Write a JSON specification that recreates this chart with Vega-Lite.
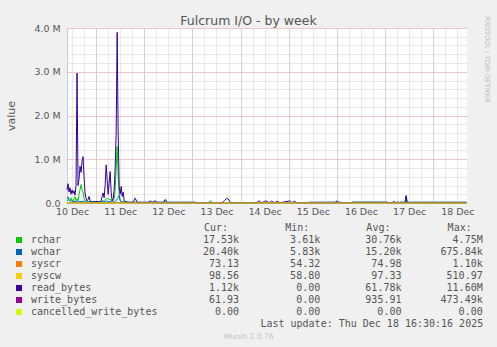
{
  "$schema": "https://vega.github.io/schema/vega-lite/v6.json",
  "width": 400,
  "height": 175,
  "autosize": "none",
  "padding": {"left": 67, "top": 28, "right": 30, "bottom": 144},
  "background": "#f0f0f0",
  "title": {"text": "Fulcrum I/O - by week", "font": "DejaVu Sans", "fontSize": 12.5, "fontWeight": "normal", "color": "#555555", "anchor": "middle", "dx": -18.5, "offset": -12},
  "config": {
    "font": "DejaVu Sans",
    "view": {"fill": "white", "stroke": null},
    "axis": {"labelFont": "DejaVu Sans", "labelColor": "#555555", "titleFont": "DejaVu Sans", "titleColor": "#555555", "titleFontWeight": "normal", "labelFlush": false, "labelOverlap": false, "labelBound": false}
  },
  "datasets": {
    "io": [
      {"t": "2025-12-10T09:30:00Z", "rchar": 50000, "wchar": 100000, "syscr": 75, "syscw": 97, "read_bytes": 300000, "write_bytes": 2000, "cancelled_write_bytes": 0},
      {"t": "2025-12-10T10:00:00Z", "rchar": 60000, "wchar": 140000, "syscr": 75, "syscw": 97, "read_bytes": 440000, "write_bytes": 3000, "cancelled_write_bytes": 0},
      {"t": "2025-12-10T10:30:00Z", "rchar": 80000, "wchar": 80000, "syscr": 75, "syscw": 97, "read_bytes": 250000, "write_bytes": 2000, "cancelled_write_bytes": 0},
      {"t": "2025-12-10T11:00:00Z", "rchar": 50000, "wchar": 50000, "syscr": 75, "syscw": 97, "read_bytes": 350000, "write_bytes": 2000, "cancelled_write_bytes": 0},
      {"t": "2025-12-10T11:30:00Z", "rchar": 120000, "wchar": 40000, "syscr": 75, "syscw": 97, "read_bytes": 200000, "write_bytes": 2000, "cancelled_write_bytes": 0},
      {"t": "2025-12-10T12:00:00Z", "rchar": 60000, "wchar": 50000, "syscr": 75, "syscw": 97, "read_bytes": 300000, "write_bytes": 2000, "cancelled_write_bytes": 0},
      {"t": "2025-12-10T12:30:00Z", "rchar": 40000, "wchar": 30000, "syscr": 75, "syscw": 97, "read_bytes": 220000, "write_bytes": 2000, "cancelled_write_bytes": 0},
      {"t": "2025-12-10T13:00:00Z", "rchar": 100000, "wchar": 40000, "syscr": 75, "syscw": 97, "read_bytes": 280000, "write_bytes": 2000, "cancelled_write_bytes": 0},
      {"t": "2025-12-10T13:30:00Z", "rchar": 150000, "wchar": 30000, "syscr": 75, "syscw": 97, "read_bytes": 180000, "write_bytes": 2000, "cancelled_write_bytes": 0},
      {"t": "2025-12-10T14:00:00Z", "rchar": 50000, "wchar": 30000, "syscr": 75, "syscw": 97, "read_bytes": 400000, "write_bytes": 2000, "cancelled_write_bytes": 0},
      {"t": "2025-12-10T14:30:00Z", "rchar": 100000, "wchar": 50000, "syscr": 75, "syscw": 97, "read_bytes": 2970000, "write_bytes": 5000, "cancelled_write_bytes": 0},
      {"t": "2025-12-10T15:00:00Z", "rchar": 60000, "wchar": 40000, "syscr": 75, "syscw": 97, "read_bytes": 400000, "write_bytes": 2000, "cancelled_write_bytes": 0},
      {"t": "2025-12-10T15:30:00Z", "rchar": 200000, "wchar": 30000, "syscr": 75, "syscw": 97, "read_bytes": 550000, "write_bytes": 2000, "cancelled_write_bytes": 0},
      {"t": "2025-12-10T16:00:00Z", "rchar": 300000, "wchar": 30000, "syscr": 75, "syscw": 97, "read_bytes": 840000, "write_bytes": 2000, "cancelled_write_bytes": 0},
      {"t": "2025-12-10T16:30:00Z", "rchar": 420000, "wchar": 40000, "syscr": 75, "syscw": 97, "read_bytes": 700000, "write_bytes": 2000, "cancelled_write_bytes": 0},
      {"t": "2025-12-10T17:00:00Z", "rchar": 300000, "wchar": 30000, "syscr": 75, "syscw": 97, "read_bytes": 950000, "write_bytes": 2000, "cancelled_write_bytes": 0},
      {"t": "2025-12-10T17:30:00Z", "rchar": 250000, "wchar": 50000, "syscr": 75, "syscw": 97, "read_bytes": 1060000, "write_bytes": 2000, "cancelled_write_bytes": 0},
      {"t": "2025-12-10T18:00:00Z", "rchar": 100000, "wchar": 30000, "syscr": 75, "syscw": 97, "read_bytes": 600000, "write_bytes": 2000, "cancelled_write_bytes": 0},
      {"t": "2025-12-10T18:30:00Z", "rchar": 50000, "wchar": 20000, "syscr": 75, "syscw": 97, "read_bytes": 230000, "write_bytes": 2000, "cancelled_write_bytes": 0},
      {"t": "2025-12-10T19:00:00Z", "rchar": 40000, "wchar": 20000, "syscr": 75, "syscw": 97, "read_bytes": 100000, "write_bytes": 1000, "cancelled_write_bytes": 0},
      {"t": "2025-12-10T19:30:00Z", "rchar": 30000, "wchar": 20000, "syscr": 75, "syscw": 97, "read_bytes": 50000, "write_bytes": 1000, "cancelled_write_bytes": 0},
      {"t": "2025-12-10T20:00:00Z", "rchar": 30000, "wchar": 20000, "syscr": 75, "syscw": 97, "read_bytes": 80000, "write_bytes": 1000, "cancelled_write_bytes": 0},
      {"t": "2025-12-10T20:30:00Z", "rchar": 30000, "wchar": 20000, "syscr": 75, "syscw": 97, "read_bytes": 150000, "write_bytes": 1000, "cancelled_write_bytes": 0},
      {"t": "2025-12-10T21:00:00Z", "rchar": 30000, "wchar": 20000, "syscr": 75, "syscw": 97, "read_bytes": 50000, "write_bytes": 1000, "cancelled_write_bytes": 0},
      {"t": "2025-12-10T21:30:00Z", "rchar": 25000, "wchar": 20000, "syscr": 75, "syscw": 97, "read_bytes": 20000, "write_bytes": 1000, "cancelled_write_bytes": 0},
      {"t": "2025-12-10T22:30:00Z", "rchar": 25000, "wchar": 20000, "syscr": 75, "syscw": 97, "read_bytes": 30000, "write_bytes": 1000, "cancelled_write_bytes": 0},
      {"t": "2025-12-10T23:30:00Z", "rchar": 25000, "wchar": 20000, "syscr": 75, "syscw": 97, "read_bytes": 20000, "write_bytes": 1000, "cancelled_write_bytes": 0},
      {"t": "2025-12-11T00:30:00Z", "rchar": 25000, "wchar": 20000, "syscr": 75, "syscw": 97, "read_bytes": 40000, "write_bytes": 1000, "cancelled_write_bytes": 0},
      {"t": "2025-12-11T01:30:00Z", "rchar": 25000, "wchar": 20000, "syscr": 75, "syscw": 97, "read_bytes": 20000, "write_bytes": 1000, "cancelled_write_bytes": 0},
      {"t": "2025-12-11T02:30:00Z", "rchar": 30000, "wchar": 20000, "syscr": 75, "syscw": 97, "read_bytes": 50000, "write_bytes": 1000, "cancelled_write_bytes": 0},
      {"t": "2025-12-11T03:00:00Z", "rchar": 40000, "wchar": 25000, "syscr": 75, "syscw": 97, "read_bytes": 150000, "write_bytes": 1000, "cancelled_write_bytes": 0},
      {"t": "2025-12-11T03:30:00Z", "rchar": 50000, "wchar": 30000, "syscr": 75, "syscw": 97, "read_bytes": 230000, "write_bytes": 1000, "cancelled_write_bytes": 0},
      {"t": "2025-12-11T04:00:00Z", "rchar": 60000, "wchar": 30000, "syscr": 75, "syscw": 97, "read_bytes": 120000, "write_bytes": 1000, "cancelled_write_bytes": 0},
      {"t": "2025-12-11T04:30:00Z", "rchar": 80000, "wchar": 40000, "syscr": 75, "syscw": 97, "read_bytes": 400000, "write_bytes": 1000, "cancelled_write_bytes": 0},
      {"t": "2025-12-11T05:00:00Z", "rchar": 100000, "wchar": 50000, "syscr": 75, "syscw": 97, "read_bytes": 870000, "write_bytes": 2000, "cancelled_write_bytes": 0},
      {"t": "2025-12-11T05:30:00Z", "rchar": 90000, "wchar": 40000, "syscr": 75, "syscw": 97, "read_bytes": 550000, "write_bytes": 2000, "cancelled_write_bytes": 0},
      {"t": "2025-12-11T06:00:00Z", "rchar": 100000, "wchar": 30000, "syscr": 75, "syscw": 97, "read_bytes": 200000, "write_bytes": 2000, "cancelled_write_bytes": 0},
      {"t": "2025-12-11T06:30:00Z", "rchar": 80000, "wchar": 30000, "syscr": 75, "syscw": 97, "read_bytes": 450000, "write_bytes": 2000, "cancelled_write_bytes": 0},
      {"t": "2025-12-11T07:00:00Z", "rchar": 90000, "wchar": 40000, "syscr": 75, "syscw": 97, "read_bytes": 720000, "write_bytes": 2000, "cancelled_write_bytes": 0},
      {"t": "2025-12-11T07:30:00Z", "rchar": 60000, "wchar": 30000, "syscr": 75, "syscw": 97, "read_bytes": 250000, "write_bytes": 2000, "cancelled_write_bytes": 0},
      {"t": "2025-12-11T08:00:00Z", "rchar": 40000, "wchar": 20000, "syscr": 75, "syscw": 97, "read_bytes": 50000, "write_bytes": 1000, "cancelled_write_bytes": 0},
      {"t": "2025-12-11T08:30:00Z", "rchar": 50000, "wchar": 20000, "syscr": 75, "syscw": 97, "read_bytes": 100000, "write_bytes": 1000, "cancelled_write_bytes": 0},
      {"t": "2025-12-11T09:00:00Z", "rchar": 100000, "wchar": 30000, "syscr": 75, "syscw": 97, "read_bytes": 300000, "write_bytes": 2000, "cancelled_write_bytes": 0},
      {"t": "2025-12-11T09:30:00Z", "rchar": 300000, "wchar": 40000, "syscr": 75, "syscw": 97, "read_bytes": 800000, "write_bytes": 5000, "cancelled_write_bytes": 0},
      {"t": "2025-12-11T10:00:00Z", "rchar": 800000, "wchar": 60000, "syscr": 75, "syscw": 97, "read_bytes": 1600000, "write_bytes": 10000, "cancelled_write_bytes": 0},
      {"t": "2025-12-11T10:30:00Z", "rchar": 1290000, "wchar": 80000, "syscr": 75, "syscw": 97, "read_bytes": 3900000, "write_bytes": 20000, "cancelled_write_bytes": 0},
      {"t": "2025-12-11T11:00:00Z", "rchar": 600000, "wchar": 120000, "syscr": 75, "syscw": 97, "read_bytes": 1600000, "write_bytes": 10000, "cancelled_write_bytes": 0},
      {"t": "2025-12-11T11:30:00Z", "rchar": 200000, "wchar": 170000, "syscr": 75, "syscw": 97, "read_bytes": 380000, "write_bytes": 5000, "cancelled_write_bytes": 0},
      {"t": "2025-12-11T12:00:00Z", "rchar": 50000, "wchar": 60000, "syscr": 75, "syscw": 97, "read_bytes": 200000, "write_bytes": 2000, "cancelled_write_bytes": 0},
      {"t": "2025-12-11T12:30:00Z", "rchar": 40000, "wchar": 30000, "syscr": 75, "syscw": 97, "read_bytes": 380000, "write_bytes": 2000, "cancelled_write_bytes": 0},
      {"t": "2025-12-11T13:00:00Z", "rchar": 30000, "wchar": 20000, "syscr": 75, "syscw": 97, "read_bytes": 150000, "write_bytes": 1000, "cancelled_write_bytes": 0},
      {"t": "2025-12-11T13:30:00Z", "rchar": 30000, "wchar": 20000, "syscr": 75, "syscw": 97, "read_bytes": 250000, "write_bytes": 1000, "cancelled_write_bytes": 0},
      {"t": "2025-12-11T14:00:00Z", "rchar": 25000, "wchar": 20000, "syscr": 75, "syscw": 97, "read_bytes": 50000, "write_bytes": 1000, "cancelled_write_bytes": 0},
      {"t": "2025-12-11T15:00:00Z", "rchar": 25000, "wchar": 20000, "syscr": 75, "syscw": 97, "read_bytes": 20000, "write_bytes": 1000, "cancelled_write_bytes": 0},
      {"t": "2025-12-11T17:00:00Z", "rchar": 10000, "wchar": 20000, "syscr": 75, "syscw": 97, "read_bytes": 10000, "write_bytes": 500, "cancelled_write_bytes": 0},
      {"t": "2025-12-11T18:30:00Z", "rchar": 10000, "wchar": 20000, "syscr": 75, "syscw": 97, "read_bytes": 20000, "write_bytes": 500, "cancelled_write_bytes": 0},
      {"t": "2025-12-11T19:30:00Z", "rchar": 10000, "wchar": 20000, "syscr": 75, "syscw": 97, "read_bytes": 110000, "write_bytes": 500, "cancelled_write_bytes": 0},
      {"t": "2025-12-11T20:30:00Z", "rchar": 10000, "wchar": 20000, "syscr": 75, "syscw": 97, "read_bytes": 10000, "write_bytes": 500, "cancelled_write_bytes": 0},
      {"t": "2025-12-12T02:00:00Z", "rchar": 10000, "wchar": 20000, "syscr": 75, "syscw": 97, "read_bytes": 10000, "write_bytes": 500, "cancelled_write_bytes": 0},
      {"t": "2025-12-12T03:00:00Z", "rchar": 10000, "wchar": 20000, "syscr": 75, "syscw": 97, "read_bytes": 50000, "write_bytes": 500, "cancelled_write_bytes": 0},
      {"t": "2025-12-12T04:00:00Z", "rchar": 10000, "wchar": 20000, "syscr": 75, "syscw": 97, "read_bytes": 10000, "write_bytes": 500, "cancelled_write_bytes": 0},
      {"t": "2025-12-12T05:30:00Z", "rchar": 10000, "wchar": 20000, "syscr": 75, "syscw": 97, "read_bytes": 50000, "write_bytes": 500, "cancelled_write_bytes": 0},
      {"t": "2025-12-12T06:30:00Z", "rchar": 10000, "wchar": 20000, "syscr": 75, "syscw": 97, "read_bytes": 10000, "write_bytes": 500, "cancelled_write_bytes": 0},
      {"t": "2025-12-12T09:30:00Z", "rchar": 10000, "wchar": 20000, "syscr": 75, "syscw": 97, "read_bytes": 10000, "write_bytes": 500, "cancelled_write_bytes": 0},
      {"t": "2025-12-12T10:30:00Z", "rchar": 10000, "wchar": 50000, "syscr": 75, "syscw": 97, "read_bytes": 80000, "write_bytes": 500, "cancelled_write_bytes": 0},
      {"t": "2025-12-12T11:30:00Z", "rchar": 10000, "wchar": 20000, "syscr": 75, "syscw": 97, "read_bytes": 10000, "write_bytes": 500, "cancelled_write_bytes": 0},
      {"t": "2025-12-12T18:00:00Z", "rchar": 10000, "wchar": 20000, "syscr": 75, "syscw": 97, "read_bytes": 10000, "write_bytes": 500, "cancelled_write_bytes": 0},
      {"t": "2025-12-13T01:30:00Z", "rchar": 10000, "wchar": 20000, "syscr": 75, "syscw": 97, "read_bytes": 10000, "write_bytes": 500, "cancelled_write_bytes": 0},
      {"t": "2025-12-13T02:30:00Z", "rchar": 8000, "wchar": 5000, "syscr": 75, "syscw": 97, "read_bytes": 3000, "write_bytes": 500, "cancelled_write_bytes": 0},
      {"t": "2025-12-13T08:00:00Z", "rchar": 8000, "wchar": 5000, "syscr": 75, "syscw": 97, "read_bytes": 3000, "write_bytes": 500, "cancelled_write_bytes": 0},
      {"t": "2025-12-13T09:00:00Z", "rchar": 50000, "wchar": 5000, "syscr": 75, "syscw": 97, "read_bytes": 3000, "write_bytes": 500, "cancelled_write_bytes": 0},
      {"t": "2025-12-13T10:00:00Z", "rchar": 8000, "wchar": 5000, "syscr": 75, "syscw": 97, "read_bytes": 3000, "write_bytes": 500, "cancelled_write_bytes": 0},
      {"t": "2025-12-13T15:00:00Z", "rchar": 8000, "wchar": 5000, "syscr": 75, "syscw": 97, "read_bytes": 3000, "write_bytes": 500, "cancelled_write_bytes": 0},
      {"t": "2025-12-13T16:00:00Z", "rchar": 8000, "wchar": 5000, "syscr": 75, "syscw": 97, "read_bytes": 60000, "write_bytes": 500, "cancelled_write_bytes": 0},
      {"t": "2025-12-13T17:00:00Z", "rchar": 8000, "wchar": 5000, "syscr": 75, "syscw": 97, "read_bytes": 100000, "write_bytes": 500, "cancelled_write_bytes": 0},
      {"t": "2025-12-13T18:00:00Z", "rchar": 8000, "wchar": 5000, "syscr": 75, "syscw": 97, "read_bytes": 90000, "write_bytes": 500, "cancelled_write_bytes": 0},
      {"t": "2025-12-13T19:00:00Z", "rchar": 8000, "wchar": 5000, "syscr": 75, "syscw": 97, "read_bytes": 3000, "write_bytes": 500, "cancelled_write_bytes": 0},
      {"t": "2025-12-14T08:00:00Z", "rchar": 8000, "wchar": 5000, "syscr": 75, "syscw": 97, "read_bytes": 3000, "write_bytes": 500, "cancelled_write_bytes": 0},
      {"t": "2025-12-14T09:00:00Z", "rchar": 8000, "wchar": 5000, "syscr": 75, "syscw": 97, "read_bytes": 50000, "write_bytes": 500, "cancelled_write_bytes": 0},
      {"t": "2025-12-14T10:30:00Z", "rchar": 8000, "wchar": 5000, "syscr": 75, "syscw": 97, "read_bytes": 3000, "write_bytes": 500, "cancelled_write_bytes": 0},
      {"t": "2025-12-14T12:30:00Z", "rchar": 8000, "wchar": 5000, "syscr": 75, "syscw": 97, "read_bytes": 50000, "write_bytes": 500, "cancelled_write_bytes": 0},
      {"t": "2025-12-14T14:30:00Z", "rchar": 8000, "wchar": 5000, "syscr": 75, "syscw": 97, "read_bytes": 3000, "write_bytes": 500, "cancelled_write_bytes": 0},
      {"t": "2025-12-14T15:30:00Z", "rchar": 8000, "wchar": 5000, "syscr": 75, "syscw": 97, "read_bytes": 50000, "write_bytes": 500, "cancelled_write_bytes": 0},
      {"t": "2025-12-14T16:30:00Z", "rchar": 8000, "wchar": 5000, "syscr": 75, "syscw": 97, "read_bytes": 3000, "write_bytes": 500, "cancelled_write_bytes": 0},
      {"t": "2025-12-14T18:30:00Z", "rchar": 8000, "wchar": 5000, "syscr": 75, "syscw": 97, "read_bytes": 40000, "write_bytes": 500, "cancelled_write_bytes": 0},
      {"t": "2025-12-14T19:30:00Z", "rchar": 8000, "wchar": 5000, "syscr": 75, "syscw": 97, "read_bytes": 3000, "write_bytes": 500, "cancelled_write_bytes": 0},
      {"t": "2025-12-15T00:30:00Z", "rchar": 8000, "wchar": 5000, "syscr": 75, "syscw": 97, "read_bytes": 50000, "write_bytes": 500, "cancelled_write_bytes": 0},
      {"t": "2025-12-15T01:30:00Z", "rchar": 8000, "wchar": 5000, "syscr": 75, "syscw": 97, "read_bytes": 3000, "write_bytes": 500, "cancelled_write_bytes": 0},
      {"t": "2025-12-15T03:00:00Z", "rchar": 8000, "wchar": 5000, "syscr": 75, "syscw": 97, "read_bytes": 40000, "write_bytes": 500, "cancelled_write_bytes": 0},
      {"t": "2025-12-15T04:00:00Z", "rchar": 8000, "wchar": 5000, "syscr": 75, "syscw": 97, "read_bytes": 3000, "write_bytes": 500, "cancelled_write_bytes": 0},
      {"t": "2025-12-15T10:00:00Z", "rchar": 8000, "wchar": 5000, "syscr": 75, "syscw": 97, "read_bytes": 3000, "write_bytes": 500, "cancelled_write_bytes": 0},
      {"t": "2025-12-15T10:30:00Z", "rchar": 10000, "wchar": 20000, "syscr": 75, "syscw": 97, "read_bytes": 3000, "write_bytes": 500, "cancelled_write_bytes": 0},
      {"t": "2025-12-15T23:00:00Z", "rchar": 10000, "wchar": 20000, "syscr": 75, "syscw": 97, "read_bytes": 3000, "write_bytes": 500, "cancelled_write_bytes": 0},
      {"t": "2025-12-16T00:00:00Z", "rchar": 10000, "wchar": 30000, "syscr": 75, "syscw": 97, "read_bytes": 50000, "write_bytes": 500, "cancelled_write_bytes": 0},
      {"t": "2025-12-16T00:30:00Z", "rchar": 10000, "wchar": 20000, "syscr": 75, "syscw": 97, "read_bytes": 3000, "write_bytes": 500, "cancelled_write_bytes": 0},
      {"t": "2025-12-16T01:30:00Z", "rchar": 10000, "wchar": 20000, "syscr": 75, "syscw": 97, "read_bytes": 3000, "write_bytes": 500, "cancelled_write_bytes": 0},
      {"t": "2025-12-16T02:30:00Z", "rchar": 8000, "wchar": 5000, "syscr": 75, "syscw": 97, "read_bytes": 3000, "write_bytes": 500, "cancelled_write_bytes": 0},
      {"t": "2025-12-16T07:00:00Z", "rchar": 8000, "wchar": 5000, "syscr": 75, "syscw": 97, "read_bytes": 3000, "write_bytes": 500, "cancelled_write_bytes": 0},
      {"t": "2025-12-16T08:00:00Z", "rchar": 10000, "wchar": 20000, "syscr": 75, "syscw": 97, "read_bytes": 15000, "write_bytes": 500, "cancelled_write_bytes": 0},
      {"t": "2025-12-17T01:00:00Z", "rchar": 10000, "wchar": 20000, "syscr": 75, "syscw": 97, "read_bytes": 15000, "write_bytes": 500, "cancelled_write_bytes": 0},
      {"t": "2025-12-17T02:00:00Z", "rchar": 8000, "wchar": 5000, "syscr": 75, "syscw": 97, "read_bytes": 3000, "write_bytes": 500, "cancelled_write_bytes": 0},
      {"t": "2025-12-17T05:00:00Z", "rchar": 8000, "wchar": 5000, "syscr": 75, "syscw": 97, "read_bytes": 30000, "write_bytes": 500, "cancelled_write_bytes": 0},
      {"t": "2025-12-17T05:30:00Z", "rchar": 8000, "wchar": 5000, "syscr": 75, "syscw": 97, "read_bytes": 3000, "write_bytes": 500, "cancelled_write_bytes": 0},
      {"t": "2025-12-17T06:30:00Z", "rchar": 8000, "wchar": 5000, "syscr": 75, "syscw": 97, "read_bytes": 30000, "write_bytes": 500, "cancelled_write_bytes": 0},
      {"t": "2025-12-17T07:00:00Z", "rchar": 8000, "wchar": 5000, "syscr": 75, "syscw": 97, "read_bytes": 3000, "write_bytes": 500, "cancelled_write_bytes": 0},
      {"t": "2025-12-17T07:30:00Z", "rchar": 10000, "wchar": 20000, "syscr": 75, "syscw": 97, "read_bytes": 10000, "write_bytes": 500, "cancelled_write_bytes": 0},
      {"t": "2025-12-17T10:00:00Z", "rchar": 10000, "wchar": 20000, "syscr": 75, "syscw": 97, "read_bytes": 10000, "write_bytes": 500, "cancelled_write_bytes": 0},
      {"t": "2025-12-17T10:30:00Z", "rchar": 10000, "wchar": 150000, "syscr": 75, "syscw": 97, "read_bytes": 170000, "write_bytes": 500, "cancelled_write_bytes": 0},
      {"t": "2025-12-17T11:00:00Z", "rchar": 10000, "wchar": 20000, "syscr": 75, "syscw": 97, "read_bytes": 10000, "write_bytes": 500, "cancelled_write_bytes": 0},
      {"t": "2025-12-18T16:30:00Z", "rchar": 10000, "wchar": 20000, "syscr": 73, "syscw": 99, "read_bytes": 10000, "write_bytes": 500, "cancelled_write_bytes": 0}
    ],
    "stats": [
      {"series": "rchar", "Cur": "17.53k", "Min": "3.61k", "Avg": "30.76k", "Max": "4.75M"},
      {"series": "wchar", "Cur": "20.40k", "Min": "5.83k", "Avg": "15.20k", "Max": "675.84k"},
      {"series": "syscr", "Cur": "73.13\u00a0", "Min": "54.32\u00a0", "Avg": "74.98\u00a0", "Max": "1.10k"},
      {"series": "syscw", "Cur": "98.56\u00a0", "Min": "58.80\u00a0", "Avg": "97.33\u00a0", "Max": "510.97\u00a0"},
      {"series": "read_bytes", "Cur": "1.12k", "Min": "0.00\u00a0", "Avg": "61.78k", "Max": "11.60M"},
      {"series": "write_bytes", "Cur": "61.93\u00a0", "Min": "0.00\u00a0", "Avg": "935.91\u00a0", "Max": "473.49k"},
      {"series": "cancelled_write_bytes", "Cur": "0.00\u00a0", "Min": "0.00\u00a0", "Avg": "0.00\u00a0", "Max": "0.00\u00a0"}
    ]
  },
  "layer": [
    {
      "data": {"name": "io"},
      "transform": [{"fold": ["rchar", "wchar", "syscr", "syscw", "read_bytes", "write_bytes", "cancelled_write_bytes"], "as": ["series", "value"]}],
      "layer": [
        {
          "transform": [{"filter": {"field": "series", "oneOf": ["rchar", "wchar", "syscr", "syscw"]}}],
          "mark": {"type": "line", "strokeWidth": 1},
          "encoding": {
            "x": {"field": "t", "type": "temporal", "scale": {"type": "utc", "domain": [{"year": 2025, "month": 12, "date": 10, "hours": 9, "minutes": 30, "utc": true}, {"year": 2025, "month": 12, "date": 18, "hours": 16, "minutes": 50, "utc": true}]},
              "axis": {"orient": "bottom", "grid": true, "gridColor": "#d4d4d4", "gridDash": [1, 1], "tickCount": 33, "labels": false, "ticks": false, "domain": false, "title": null}},
            "y": {"field": "value", "type": "quantitative", "scale": {"domain": [0, 4000000], "nice": false},
              "axis": {"orient": "left", "grid": true, "gridColor": "#d4d4d4", "gridDash": [1, 1], "tickCount": 20, "labels": false, "ticks": false, "domain": false, "title": null}},
            "color": {
              "field": "series", "type": "nominal",
              "scale": {"domain": ["rchar", "wchar", "syscr", "syscw", "read_bytes", "write_bytes", "cancelled_write_bytes"], "range": ["#00CC00", "#0066B3", "#FF8000", "#FFCC00", "#330099", "#990099", "#CCFF00"]},
              "legend": {"orient": "none", "legendX": -53, "legendY": 207, "title": null, "direction": "vertical", "gridAlign": "all", "symbolType": "square", "symbolSize": 36, "symbolStrokeWidth": 0, "labelFont": "DejaVu Sans Mono", "labelFontSize": 10, "labelColor": "#555555", "rowPadding": 2, "labelOffset": 7, "padding": 0,
                "encode": {"symbols": {"update": {"fill": {"scale": "color", "field": "value"}, "fillOpacity": {"value": 1}}}}}
            }
          }
        },
        {
          "transform": [{"filter": {"field": "series", "oneOf": ["read_bytes", "write_bytes"]}}],
          "mark": {"type": "line", "strokeWidth": 1},
          "encoding": {
            "x": {"field": "t", "type": "temporal",
              "axis": {"orient": "bottom", "grid": true, "gridColor": "#f2a8a8", "gridDash": [1, 1], "tickCount": 9, "labels": false, "ticks": false, "domain": true, "domainColor": "#c8c8e8", "title": null}},
            "y": {"field": "value", "type": "quantitative",
              "axis": {"orient": "left", "grid": true, "gridColor": "#f2a8a8", "gridDash": [1, 1], "tickCount": 4, "labelExpr": "datum.value == 0 ? '0.0' : format(datum.value / 1000000, '.1f') + ' M'", "labelFontSize": 9.4, "labelPadding": 7, "ticks": false, "domain": true, "domainColor": "#c8c8e8", "title": "value", "titleFontSize": 11, "titleX": -56, "titleY": 87.5, "titleAlign": "center", "titleBaseline": "middle", "titleAngle": -90}},
            "color": {"field": "series", "type": "nominal"}
          }
        },
        {
          "transform": [{"filter": {"field": "series", "equal": "cancelled_write_bytes"}}],
          "mark": {"type": "line", "strokeWidth": 1},
          "encoding": {
            "x": {"field": "t", "type": "temporal",
              "axis": {"orient": "bottom", "format": "%d %b", "labelFontSize": 9.4, "labelPadding": 4, "ticks": false, "domain": false, "grid": false,
                "values": [1765368000000, 1765454400000, 1765540800000, 1765627200000, 1765713600000, 1765800000000, 1765886400000, 1765972800000, 1766059200000],
                "title": "Munin 2.0.76", "titleX": 181.3, "titleY": 133.4, "titleFontSize": 7.6, "titleColor": "#c4c4c4", "titleAlign": "center", "titleBaseline": "middle"}},
            "y": {"field": "value", "type": "quantitative",
              "axis": {"orient": "right", "labels": false, "ticks": false, "domain": false, "grid": false, "title": "RRDTOOL / TOBI OETIKER", "titleAngle": 90, "titleX": 19.7, "titleY": 31, "titleFontSize": 6.7, "titleColor": "#bbbbbb", "titleAlign": "center", "titleBaseline": "middle"}},
            "color": {"field": "series", "type": "nominal"}
          }
        }
      ],
      "resolve": {"axis": {"x": "independent", "y": "independent"}}
    },
    {
      "data": {"name": "stats"},
      "transform": [{"fold": ["Cur", "Min", "Avg", "Max"], "as": ["col", "val"]}],
      "mark": {"type": "text", "align": "right", "baseline": "middle", "font": "DejaVu Sans Mono", "fontSize": 10, "color": "#555555"},
      "encoding": {
        "x": {"field": "col", "type": "nominal", "sort": ["Cur", "Min", "Avg", "Max"],
          "scale": {"type": "point", "domain": ["Cur", "Min", "Avg", "Max"], "range": [172, 415.7], "padding": 0},
          "axis": {"orient": "bottom", "labelExpr": "datum.label + ':'", "labelFont": "DejaVu Sans Mono", "labelFontSize": 10, "labelAlign": "right", "labelOffset": -11.5, "labelBaseline": "middle", "labelPadding": 24.5, "labelAngle": 0, "ticks": false, "domain": false, "grid": false,
            "title": "Last update: Thu Dec 18 16:30:16 2025", "titleFont": "DejaVu Sans Mono", "titleFontSize": 10, "titleX": 415.7, "titleY": 120, "titleAlign": "right", "titleBaseline": "middle"}},
        "y": {"field": "series", "type": "nominal",
          "scale": {"type": "point", "domain": ["rchar", "wchar", "syscr", "syscw", "read_bytes", "write_bytes", "cancelled_write_bytes"], "range": [212, 284], "padding": 0},
          "axis": null},
        "text": {"field": "val"}
      }
    }
  ],
  "resolve": {"scale": {"x": "independent", "y": "independent"}}
}
